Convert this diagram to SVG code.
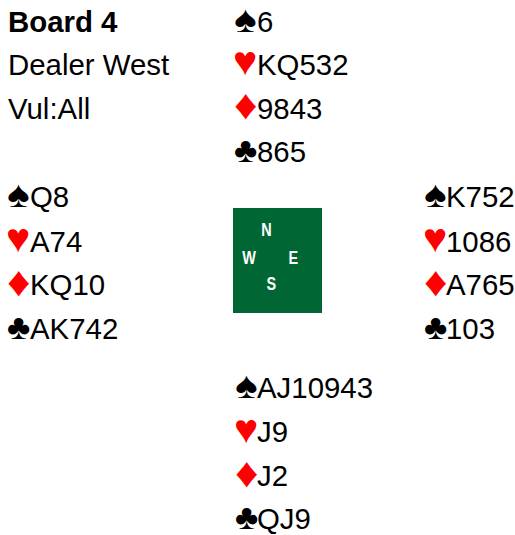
<svg xmlns="http://www.w3.org/2000/svg" width="515" height="535" viewBox="0 0 515 535">
<style>
text{font-family:"Liberation Sans",Arial,sans-serif;font-size:29.4px;fill:#000}
.b{font-weight:bold}
.r{fill:#ff0000}
.sp{font-size:37.5px}
.he{font-size:41px}
.di{font-size:42px}
.cl{font-size:35.5px}
.c{font-family:"Liberation Sans",Arial,sans-serif;font-size:18.5px;font-weight:bold;fill:#fff;text-anchor:middle}
</style>
<rect width="515" height="535" fill="#fff"/>
<g id="info">
<text class="b" x="8" y="31.5">Board 4</text>
<text x="8" y="75">Dealer West</text>
<text x="8" y="118.5">Vul:All</text>
</g>
<g id="north">
<text class="sp" transform="translate(234,31.5) scale(1.13,1)">♠</text><text x="257" y="31.5">6</text>
<text class="he r" x="233" y="75">♥</text><text x="257" y="75">KQ532</text>
<text class="di r" transform="translate(234,119) scale(1.1,1)">♦</text><text x="257" y="118.5">9843</text>
<text class="cl" x="234" y="162">♣</text><text x="257" y="162">865</text>
</g>
<g id="west">
<text class="sp" transform="translate(7,207) scale(1.13,1)">♠</text><text x="30" y="207">Q8</text>
<text class="he r" x="6" y="252">♥</text><text x="30" y="251.5">A74</text>
<text class="di r" transform="translate(7,296) scale(1.1,1)">♦</text><text x="30" y="295">KQ10</text>
<text class="cl" x="7" y="338.5">♣</text><text x="30" y="338.5">AK742</text>
</g>
<g id="compass">
<rect x="233" y="208" width="89" height="105" fill="#006633"/>
<text class="c" transform="translate(266.5,236.3) scale(0.78,1)">N</text>
<text class="c" transform="translate(249,263.7) scale(0.78,1)">W</text>
<text class="c" transform="translate(293.2,263.7) scale(0.78,1)">E</text>
<text class="c" transform="translate(271.3,289.7) scale(0.78,1)">S</text>
</g>
<g id="east">
<text class="sp" transform="translate(424,207) scale(1.13,1)">♠</text><text x="446" y="207">K752</text>
<text class="he r" x="423" y="252">♥</text><text x="446" y="251.5">1086</text>
<text class="di r" transform="translate(424,296) scale(1.1,1)">♦</text><text x="446" y="295">A765</text>
<text class="cl" x="424" y="338.5">♣</text><text x="446" y="338.5">103</text>
</g>
<g id="south">
<text class="sp" transform="translate(235,398) scale(1.13,1)">♠</text><text x="257" y="398">AJ10943</text>
<text class="he r" x="234" y="442.5">♥</text><text x="257" y="442">J9</text>
<text class="di r" transform="translate(235,487) scale(1.1,1)">♦</text><text x="257" y="486">J2</text>
<text class="cl" x="235" y="529">♣</text><text x="257" y="529">QJ9</text>
</g>
<g id="connectors"></g>
</svg>
